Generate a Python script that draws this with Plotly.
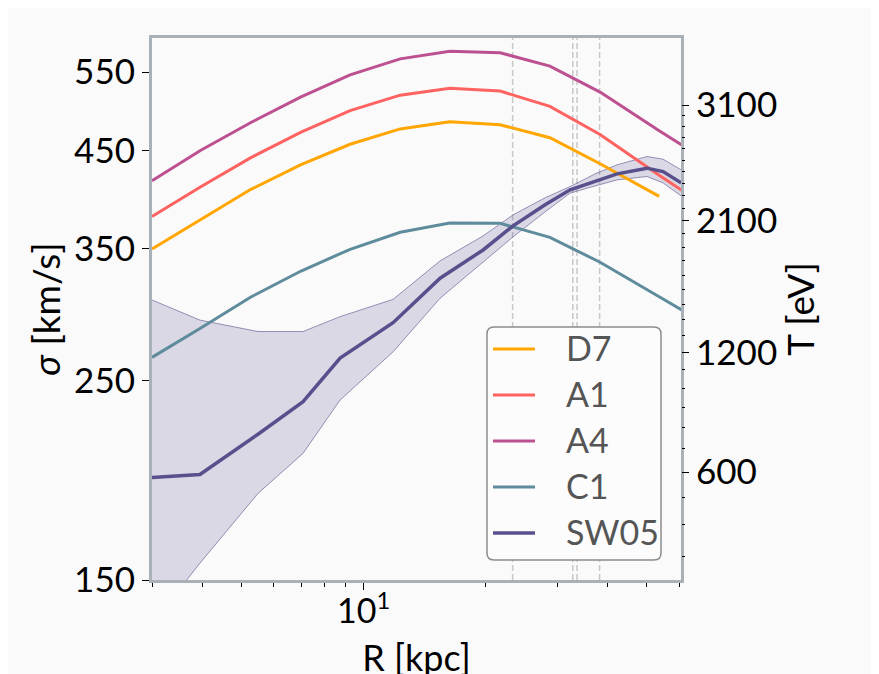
import numpy as np
import plotly.graph_objects as go

# ---- data ----
R_model = [3.0, 3.95, 5.25, 7.0, 9.25, 12.3, 16.3, 21.7, 28.8, 38.3, 53.6, 67.6]
sig_D7 = [349.8, 377.1, 407.2, 433.9, 457.2, 475.5, 484.2, 480.6, 464.9, 435.0, 400.1, None]
sig_A1 = [380.1, 409.9, 441.6, 471.7, 498.3, 518.4, 527.7, 523.8, 503.7, 468.7, 422.3, 394.1]
sig_A4 = [416.4, 450.0, 483.1, 516.1, 546.0, 568.8, 580.0, 577.8, 558.4, 522.5, 473.4, 443.1]
sig_C1 = [265.1, 285.6, 309.2, 330.6, 349.5, 365.1, 373.8, 373.5, 360.3, 338.1, 309.5, 291.2]

R_obs = [3.0, 3.94, 5.48, 7.08, 8.74, 11.81, 15.43, 19.70, 23.36, 28.02, 32.31, 37.24, 42.2, 50.0, 54.8, 60.7]
sig_SW05 = [194.9, 196.5, 217.8, 236.7, 264.6, 289.7, 324.6, 348.9, 371.1, 391.7, 407.0, 416.4, 423.9, 430.1, 426.4, 414.2]
sig_SW05_hi = [307.0, 291.6, 283.2, 283.2, 294.2, 307.5, 339.3, 361.7, 381.7, 398.7, 410.3, 423.9, 433.8, 443.1, 440.1, 428.3]
sig_SW05_lo = [134.0, 156.6, 187.2, 207.4, 237.7, 268.9, 308.4, 338.7, 360.8, 384.6, 403.5, 411.0, 417.4, 421.0, 414.2, 400.7]

R_vlines = [23.3, 32.8, 33.6, 38.2]

sigma_ticks = [150, 250, 350, 450, 550]
T_ticks = [600, 1200, 2100, 3100]
T_minor = [t for t in range(300, 3100, 100) if t not in T_ticks]
x_minor = [3, 4, 5, 6, 7, 8, 9, 20, 30, 40, 50, 60]

names = ["D7", "A1", "A4", "C1"]
series = [sig_D7, sig_A1, sig_A4, sig_C1]
colors = ["#ffa600", "#ff6361", "#bc5090", "#5f8c9c"]
sw_color = "#58508d"

FONT = "Lato, DejaVu Sans, sans-serif"
BG = "#fafafa"
FRAME = "#a9b1b8"

# plot area size in px (for placing the legend in paper units)
PW, PH = 529, 542

fig = go.Figure()

# SW05 band
fig.add_trace(go.Scatter(x=R_obs, y=sig_SW05_hi, mode="lines",
                         line=dict(color="rgba(88,80,141,0.75)", width=0.8),
                         showlegend=False, hoverinfo="skip"))
fig.add_trace(go.Scatter(x=R_obs, y=sig_SW05_lo, mode="lines",
                         line=dict(color="rgba(88,80,141,0.75)", width=0.8),
                         fill="tonexty", fillcolor="rgba(88,80,141,0.2)",
                         showlegend=False, hoverinfo="skip"))

for n, s, c in zip(names, series, colors):
    fig.add_trace(go.Scatter(x=R_model, y=s, mode="lines", name=n,
                             line=dict(color=c, width=3), showlegend=False))

fig.add_trace(go.Scatter(x=R_obs, y=sig_SW05, mode="lines", name="SW05",
                         line=dict(color=sw_color, width=3.5), showlegend=False))

for rv in R_vlines:
    fig.add_shape(type="line", xref="x", yref="paper", x0=rv, x1=rv, y0=0, y1=1,
                  line=dict(color="#c8c8c8", width=1.5, dash="6px,3px"), layer="below")

# ---- legend box (drawn by hand to match the rounded matplotlib-style frame) ----
def px2paper(px, py):
    return px / PW, (PH - py) / PH

# legend geometry in plot-area pixels (origin at plot top-left)
bx0, by0, bx1, by1, rad = 335, 289, 509, 522, 7
ax0, ay0 = px2paper(bx0, by0)
ax1, ay1 = px2paper(bx1, by1)
rx, ry = rad / PW, rad / PH
path = (f"M {ax0+rx},{ay0} L {ax1-rx},{ay0} Q {ax1},{ay0} {ax1},{ay0-ry} "
        f"L {ax1},{ay1+ry} Q {ax1},{ay1} {ax1-rx},{ay1} "
        f"L {ax0+rx},{ay1} Q {ax0},{ay1} {ax0},{ay1+ry} "
        f"L {ax0},{ay0-ry} Q {ax0},{ay0} {ax0+rx},{ay0} Z")
fig.add_shape(type="path", xref="paper", yref="paper", path=path,
              fillcolor="#fcfcfc", line=dict(color="#8c8c8c", width=1.5), layer="above")

leg_names = names + ["SW05"]
leg_colors = colors + [sw_color]
for i, (n, c) in enumerate(zip(leg_names, leg_colors)):
    rowy = 311 + 46 * i
    lx0, ly = px2paper(341, rowy)
    lx1, _ = px2paper(383, rowy)
    fig.add_shape(type="line", xref="paper", yref="paper", x0=lx0, x1=lx1, y0=ly, y1=ly,
                  line=dict(color=c, width=3.5 if n == "SW05" else 3), layer="above")
    tx, _ = px2paper(412, rowy)
    fig.add_annotation(x=tx, y=ly, xref="paper", yref="paper", text=n, showarrow=False,
                       xanchor="left", yanchor="middle", yshift=2,
                       font=dict(family=FONT, size=34, color="#555555"))

# x tick label 10^1 (placed by hand to sit close to the axis like the original)
fig.add_annotation(x=1, y=0, xref="x", yref="paper", text="10<sup>1</sup>",
                   showarrow=False, xanchor="center", yanchor="top", yshift=-4,
                   font=dict(family=FONT, size=34, color="black"))

T_lo_s, T_hi_s = 15.32, 61.37  # right axis is linear in sqrt(T)

fig.update_layout(
    width=879, height=674,
    margin=dict(l=144, r=206, t=30, b=102, autoexpand=False),
    paper_bgcolor=BG, plot_bgcolor=BG,
    font=dict(family=FONT, size=35, color="black"),
    showlegend=False,
    xaxis=dict(type="log", range=[np.log10(3), 1.783], automargin=False,
               tickmode="array", tickvals=[10], showticklabels=False,
               ticks="outside", ticklen=7, tickcolor="black", tickwidth=1.2,
               minor=dict(tickmode="array", tickvals=x_minor, ticks="outside",
                          ticklen=4, tickcolor="black", tickwidth=1, showgrid=False),
               showgrid=False, zeroline=False,
               showline=True, mirror=True, linecolor=FRAME, linewidth=3,
               title=dict(text="R [kpc]", standoff=57, font=dict(size=36))),
    yaxis=dict(type="log", range=[np.log10(150), np.log10(600)], automargin=False,
               tickmode="array", tickvals=sigma_ticks,
               ticks="outside", ticklen=7, tickcolor="black", tickwidth=1.2,
               showgrid=False, zeroline=False,
               showline=True, mirror=True, linecolor=FRAME, linewidth=3,
               title=dict(text="<i>σ</i> [km/s]", standoff=3, font=dict(size=37))),
    yaxis2=dict(overlaying="y", side="right", range=[T_lo_s, T_hi_s], automargin=False,
                tickmode="array", tickvals=[np.sqrt(t) for t in T_ticks],
                ticktext=[str(t) for t in T_ticks],
                ticks="outside", ticklen=7, tickcolor="black", tickwidth=1.2,
                minor=dict(tickmode="array", tickvals=[np.sqrt(t) for t in T_minor],
                           ticks="outside", ticklen=3, tickcolor="black", tickwidth=1,
                           showgrid=False),
                showgrid=False, zeroline=False, showline=False,
                title=dict(text="T [eV]", standoff=8, font=dict(size=37))),
)

# anchor trace so the right axis is drawn
fig.add_trace(go.Scatter(x=[None], y=[None], yaxis="y2", showlegend=False, hoverinfo="skip"))

fig.write_html("out.html")
